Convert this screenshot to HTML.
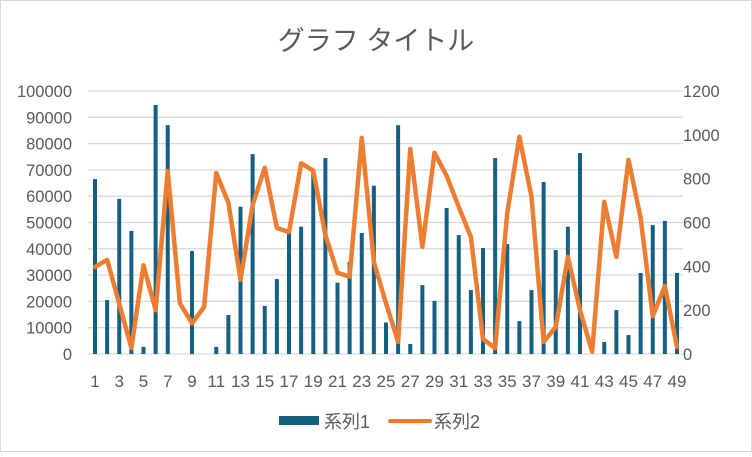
<!DOCTYPE html>
<html><head><meta charset="utf-8"><style>
body{margin:0;background:#fff}
svg text{font-family:"Liberation Sans","Noto Sans CJK JP",sans-serif;fill:#595959}
</style></head><body>
<svg id="c" width="752" height="452" xmlns="http://www.w3.org/2000/svg">
<rect x="0.5" y="0.5" width="751" height="451" fill="#fff" stroke="#d9d9d9"/>
<text x="376" y="50" font-size="27" text-anchor="middle">グラフ タイトル</text>
<g id="grid"></g><g id="bars"></g><g id="line"></g><g id="axes"></g>
<g>
<rect x="279" y="416" width="40" height="9" fill="#156082"/>
<text x="324" y="428" font-size="18">系列1</text>
<line x1="390" y1="421" x2="430" y2="421" stroke="#ED7D31" stroke-width="4" stroke-linecap="round"/>
<text x="434" y="428" font-size="18">系列2</text>
</g>
</svg>
<script>
const categories=[];for(let i=1;i<=49;i++)categories.push(i);
const series1=[66500,20500,59000,46800,2700,94700,87000,0,39200,0,2700,14800,56000,76000,18300,28500,46000,48400,69000,74500,27100,35000,46000,64000,12000,87000,3800,26200,20200,55500,45200,24300,40300,74500,41800,12500,24300,65400,39500,48400,76400,0,4600,16700,7200,30800,49000,50600,30800];
const series2=[397,430,230,27,405,200,835,232,140,215,826,690,338,680,850,575,557,870,837,543,370,353,986,420,232,55,936,489,918,813,671,534,68,27,644,991,717,55,123,443,200,10,694,443,886,621,173,310,32];
const leftTicks=[0,10000,20000,30000,40000,50000,60000,70000,80000,90000,100000];
const rightTicks=[0,200,400,600,800,1000,1200];
const NS='http://www.w3.org/2000/svg';
const y0=354,y1=91,xL=88,xR=683;
const yL=v=>y0-(v/100000)*(y0-y1);
const yR=v=>y0-(v/1200)*(y0-y1);
const x=i=>95+i*(677-95)/48;
function mk(tag,attrs,parent,txt){const e=document.createElementNS(NS,tag);for(const k in attrs)e.setAttribute(k,attrs[k]);if(txt!==undefined)e.textContent=txt;document.getElementById(parent).appendChild(e);return e;}
leftTicks.forEach(t=>{
 const g=mk('line',{x1:xL,x2:xR,y1:yL(t),y2:yL(t),stroke:'#d9d9d9','stroke-width':1.3},'grid');
 
 
 const l=mk('text',{x:72,y:yL(t)+6,'font-size':16.5,'text-anchor':'end'},'axes',String(t));
 
 
});
rightTicks.forEach(t=>{
 const l=mk('text',{x:683,y:yR(t)+6,'font-size':16.5},'axes',String(t));
 
 
});
categories.forEach((c,i)=>{
 if(c%2===1){const l=mk('text',{x:x(i),y:387,'font-size':17,'text-anchor':'middle'},'axes',String(c));
 
 }
 const b=mk('rect',{x:x(i)-2,y:yL(series1[i]),width:4,height:y0-yL(series1[i]),fill:'#156082'},'bars');
 
 
});
const p=mk('polyline',{points:series2.map((v,i)=>x(i)+','+yR(v)).join(' '),fill:'none',stroke:'#ED7D31','stroke-width':4.5,'stroke-linejoin':'round','stroke-linecap':'round'},'line');


</script>
</body></html>
